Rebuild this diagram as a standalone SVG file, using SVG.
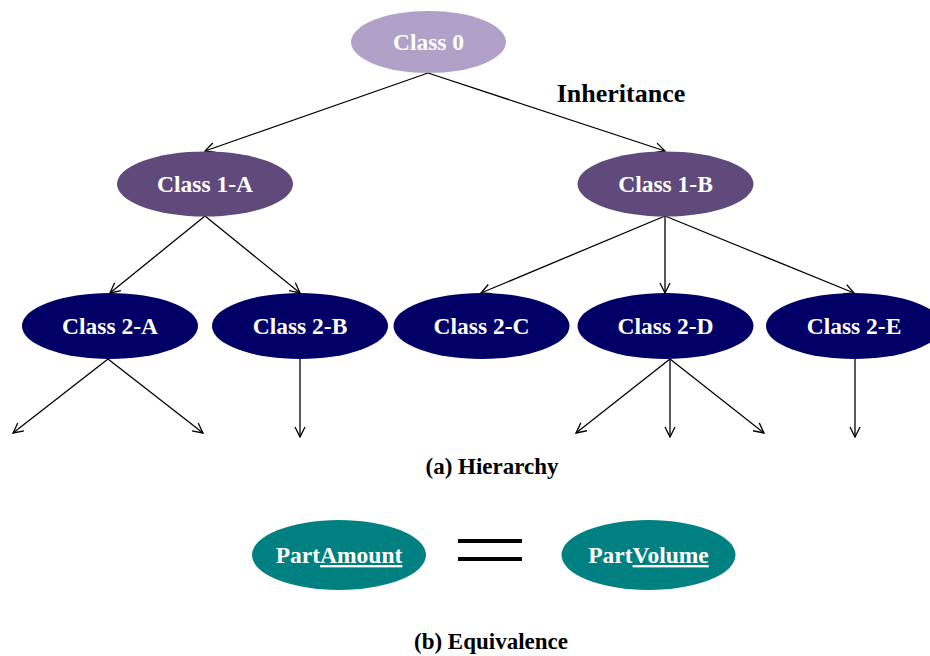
<svg xmlns="http://www.w3.org/2000/svg" width="930" height="656" viewBox="0 0 930 656">
  <style>
    text { font-family: "Liberation Serif", "Times New Roman", serif; font-weight: bold; text-anchor: middle; }
    .lbl { fill: #ffffff; font-size: 23.5px; }
    .cap { fill: #000000; font-size: 23px; }
    .c0 { fill: #b1a0c8; }
    .c1 { fill: #5f4a7b; }
    .c2 { fill: #000066; }
    .eq { fill: #008080; }
    .edge { stroke: #000000; stroke-width: 1.3; fill: none; marker-end: url(#arr); }
  </style>
  <defs>
    <marker id="arr" viewBox="0 0 12 12" refX="11" refY="6" markerWidth="12" markerHeight="12" markerUnits="userSpaceOnUse" orient="auto">
      <path d="M1,1 L11,6 L1,11" fill="none" stroke="#000" stroke-width="1.3"/>
    </marker>
  </defs>

  <g id="connectors">
    <line class="edge" x1="428" y1="73" x2="205" y2="151"/>
    <line class="edge" x1="428" y1="73" x2="665" y2="151"/>
    <line class="edge" x1="205" y1="216" x2="110" y2="293"/>
    <line class="edge" x1="205" y1="216" x2="300" y2="293"/>
    <line class="edge" x1="665" y1="216" x2="481" y2="293"/>
    <line class="edge" x1="665" y1="216" x2="665" y2="293"/>
    <line class="edge" x1="665" y1="216" x2="854" y2="293"/>
    <line class="edge" x1="108" y1="359" x2="13" y2="433"/>
    <line class="edge" x1="108" y1="359" x2="203" y2="433"/>
    <line class="edge" x1="300" y1="359" x2="300" y2="437"/>
    <line class="edge" x1="670" y1="359" x2="576" y2="433"/>
    <line class="edge" x1="670" y1="359" x2="670" y2="437"/>
    <line class="edge" x1="670" y1="359" x2="764" y2="433"/>
    <line class="edge" x1="855" y1="359" x2="855" y2="437"/>
  </g>

  <text x="621" y="102" class="cap" style="font-size:26px">Inheritance</text>

  <g id="class0">
    <ellipse class="c0" cx="428.5" cy="42" rx="77.5" ry="31"/>
    <text class="lbl" x="428.5" y="50">Class 0</text>
  </g>
  <g id="class1a">
    <ellipse class="c1" cx="205" cy="184" rx="88" ry="32.5"/>
    <text class="lbl" x="205" y="192">Class 1-A</text>
  </g>
  <g id="class1b">
    <ellipse class="c1" cx="665.5" cy="184" rx="88" ry="32.5"/>
    <text class="lbl" x="665.5" y="192">Class 1-B</text>
  </g>
  <g id="class2a">
    <ellipse class="c2" cx="110" cy="326" rx="88" ry="33"/>
    <text class="lbl" x="110" y="334">Class 2-A</text>
  </g>
  <g id="class2b">
    <ellipse class="c2" cx="300" cy="326" rx="88" ry="33"/>
    <text class="lbl" x="300" y="334">Class 2-B</text>
  </g>
  <g id="class2c">
    <ellipse class="c2" cx="481.5" cy="326" rx="88" ry="33"/>
    <text class="lbl" x="481.5" y="334">Class 2-C</text>
  </g>
  <g id="class2d">
    <ellipse class="c2" cx="665.5" cy="326" rx="88" ry="33"/>
    <text class="lbl" x="665.5" y="334">Class 2-D</text>
  </g>
  <g id="class2e">
    <ellipse class="c2" cx="854" cy="326" rx="88" ry="33"/>
    <text class="lbl" x="854" y="334">Class 2-E</text>
  </g>

  <text class="cap" x="492" y="474">(a) Hierarchy</text>

  <g id="partAmount">
    <ellipse class="eq" cx="339" cy="555" rx="87" ry="35"/>
    <text class="lbl" x="339" y="563">Part<tspan text-decoration="underline">Amount</tspan></text>
  </g>
  <g id="equals">
    <rect x="458" y="539" width="64" height="4" fill="#000"/>
    <rect x="458" y="557" width="64" height="4" fill="#000"/>
  </g>
  <g id="partVolume">
    <ellipse class="eq" cx="648.5" cy="555" rx="87" ry="35"/>
    <text class="lbl" x="648.5" y="563">Part<tspan text-decoration="underline">Volume</tspan></text>
  </g>

  <text class="cap" x="491" y="649">(b) Equivalence</text>
</svg>
